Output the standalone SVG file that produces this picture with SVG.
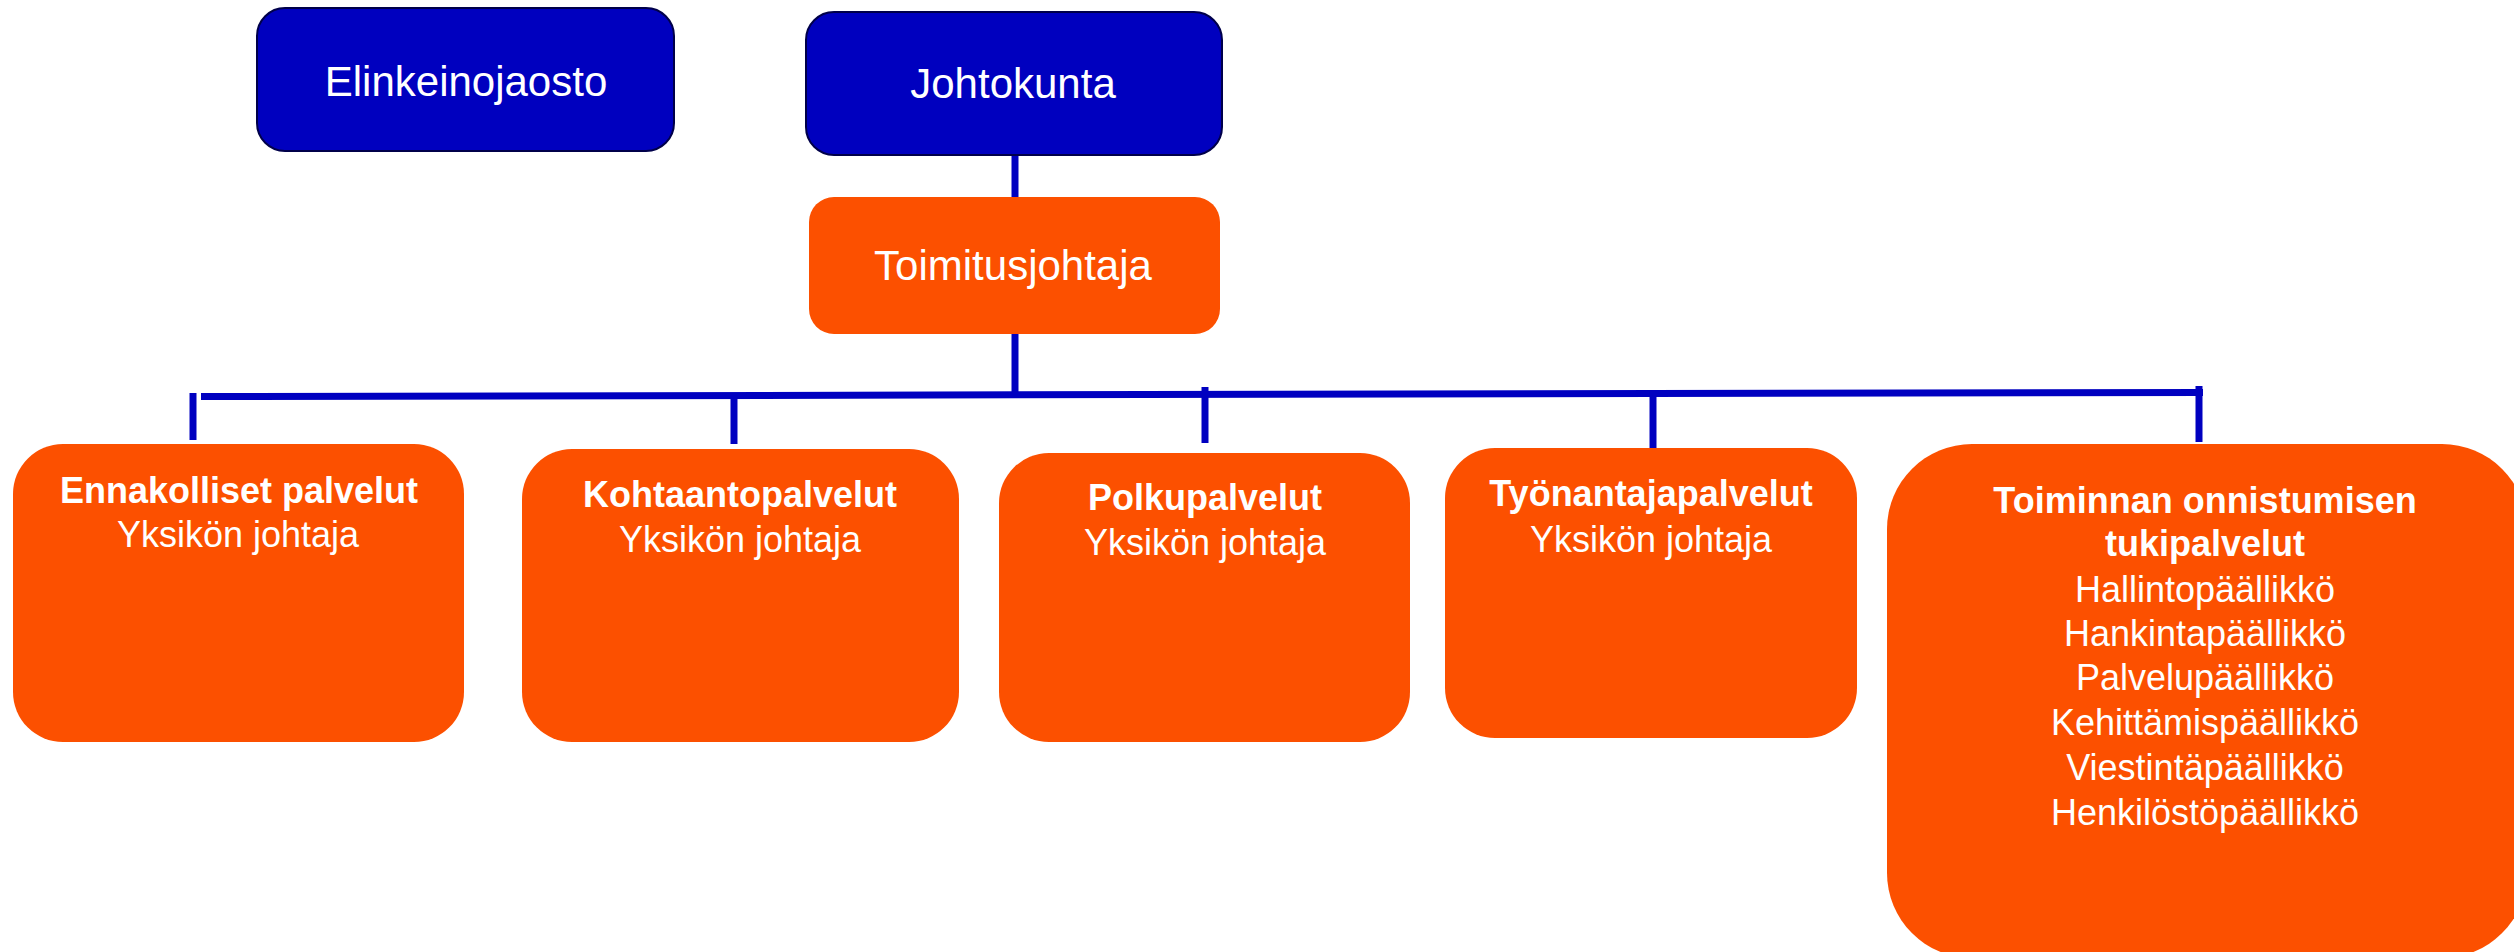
<svg xmlns="http://www.w3.org/2000/svg" width="2514" height="952" viewBox="0 0 2514 952">
<style>
.blue{fill:#0000BF;stroke:#00004A;stroke-width:2}
.orange{fill:#FC5000}
.t{font-family:"Liberation Sans",Arial,sans-serif;fill:#fff;text-anchor:middle}
.h{font-size:42px}
.b{font-size:36px;font-weight:bold}
.r{font-size:36px}
.ln{stroke:#0000C0;stroke-width:7;fill:none}
</style>
<rect width="2514" height="952" fill="#fff"/>
<g id="connectors">
<line class="ln" x1="1015" y1="155" x2="1015" y2="197"/>
<line class="ln" x1="1015" y1="334" x2="1015" y2="396"/>
<line class="ln" x1="201" y1="396.5" x2="2203" y2="392.5"/>
<line class="ln" x1="193" y1="393" x2="193" y2="440"/>
<line class="ln" x1="734" y1="396" x2="734" y2="444"/>
<line class="ln" x1="1205" y1="387" x2="1205" y2="443"/>
<line class="ln" x1="1653" y1="394" x2="1653" y2="449"/>
<line class="ln" x1="2199" y1="386" x2="2199" y2="442"/>
</g>
<g id="elinkeinojaosto">
<rect class="blue" x="257" y="8" width="417" height="143" rx="28"/>
<text class="t h" x="466" y="96">Elinkeinojaosto</text>
</g>
<g id="johtokunta">
<rect class="blue" x="806" y="12" width="416" height="143" rx="28"/>
<text class="t h" x="1013" y="98">Johtokunta</text>
</g>
<g id="toimitusjohtaja">
<rect class="orange" x="809" y="197" width="411" height="137" rx="25"/>
<text class="t h" x="1013" y="280">Toimitusjohtaja</text>
</g>
<g id="ennakolliset">
<rect class="orange" x="13" y="444" width="451" height="298" rx="50"/>
<text class="t b" x="239" y="503">Ennakolliset palvelut</text>
<text class="t r" x="238" y="547">Yksikön johtaja</text>
</g>
<g id="kohtaanto">
<rect class="orange" x="522" y="449" width="437" height="293" rx="50"/>
<text class="t b" x="740" y="507">Kohtaantopalvelut</text>
<text class="t r" x="740" y="552">Yksikön johtaja</text>
</g>
<g id="polku">
<rect class="orange" x="999" y="453" width="411" height="289" rx="50"/>
<text class="t b" x="1205" y="510">Polkupalvelut</text>
<text class="t r" x="1205" y="555">Yksikön johtaja</text>
</g>
<g id="tyonantaja">
<rect class="orange" x="1445" y="448" width="412" height="290" rx="50"/>
<text class="t b" x="1651" y="506">Työnantajapalvelut</text>
<text class="t r" x="1651" y="552">Yksikön johtaja</text>
</g>
<g id="tukipalvelut">
<rect class="orange" x="1887" y="444" width="640" height="514" rx="85"/>
<text class="t b" x="2205" y="513">Toiminnan onnistumisen</text>
<text class="t b" x="2205" y="556">tukipalvelut</text>
<text class="t r" x="2205" y="602">Hallintopäällikkö</text>
<text class="t r" x="2205" y="646">Hankintapäällikkö</text>
<text class="t r" x="2205" y="690">Palvelupäällikkö</text>
<text class="t r" x="2205" y="735">Kehittämispäällikkö</text>
<text class="t r" x="2205" y="780">Viestintäpäällikkö</text>
<text class="t r" x="2205" y="825">Henkilöstöpäällikkö</text>
</g>
</svg>
